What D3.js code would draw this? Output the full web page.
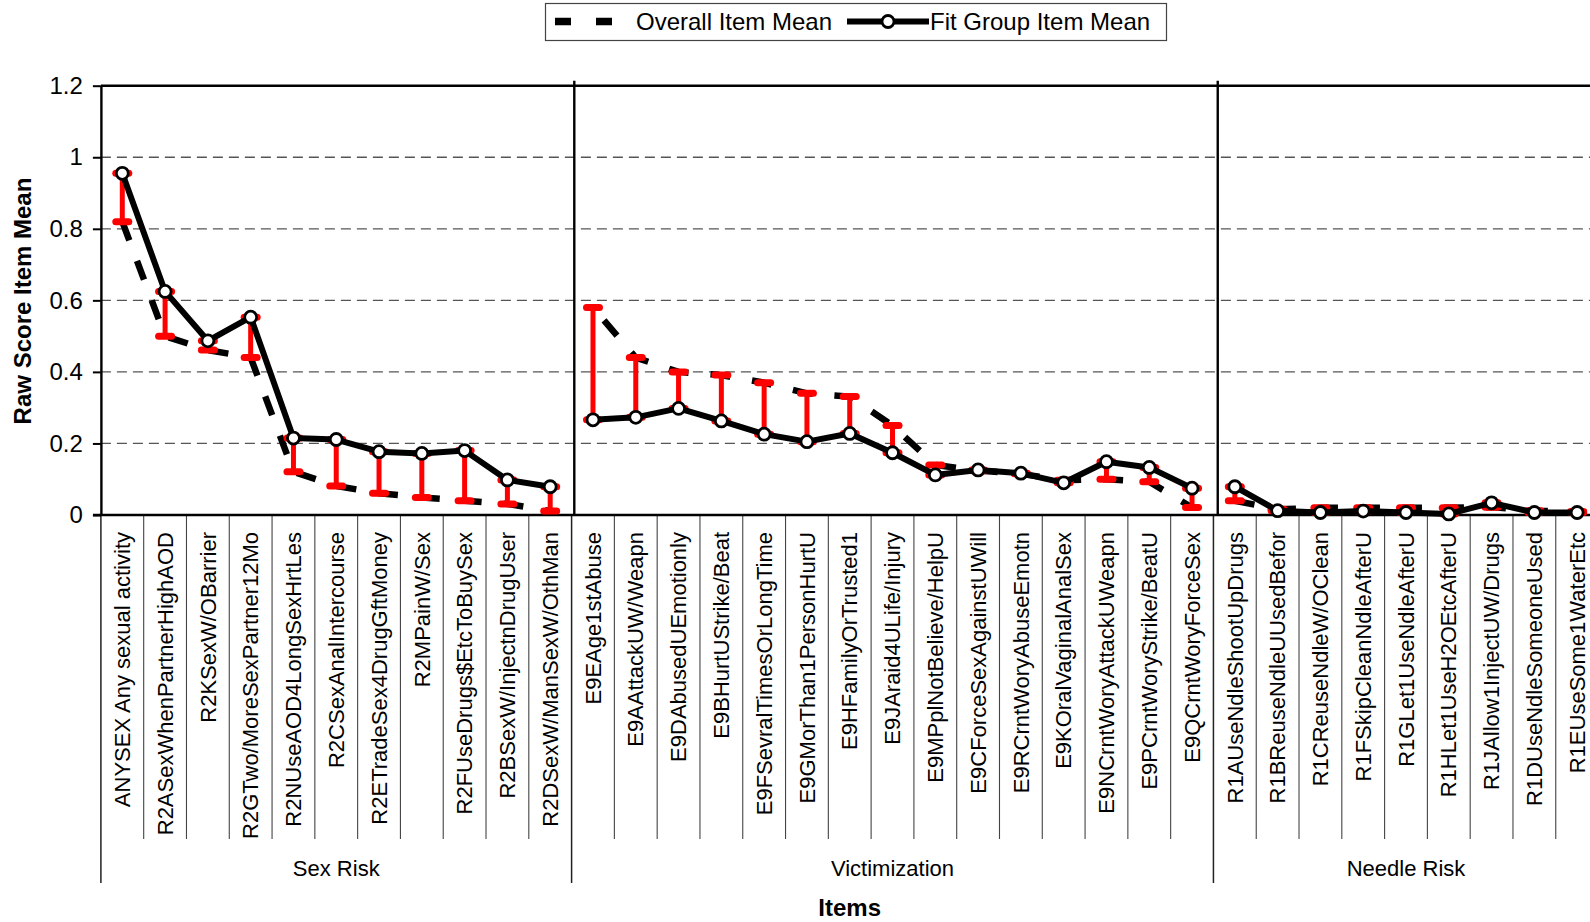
<!DOCTYPE html>
<html><head><meta charset="utf-8">
<script src="https://cdn.jsdelivr.net/npm/d3@7"></script>
<style>
body{margin:0;background:#fff;}
svg{display:block;font-family:"Liberation Sans",Arial,sans-serif;}
</style>
</head><body>
<svg id="chart" width="1590" height="922"></svg>
<script>
// ---------------- DATA ----------------
const groupNames = ["Sex Risk", "Victimization", "Needle Risk"];

const sexItems = ["ANYSEX Any sexual activity","R2ASexWhenPartnerHighAOD","R2KSexW/OBarrier","R2GTwo/MoreSexPartner12Mo",
  "R2NUseAOD4LongSexHrtLes","R2CSexAnalIntercourse","R2ETradeSex4DrugGftMoney","R2MPainW/Sex",
  "R2FUseDrugs$EtcToBuySex","R2BSexW/InjectnDrugUser","R2DSexW/ManSexW/OthMan"];
const sexFit     = [0.955, 0.625, 0.487, 0.553, 0.215, 0.211, 0.177, 0.172, 0.180, 0.098, 0.079];
const sexOverall = [0.820, 0.500, 0.461, 0.440, 0.121, 0.081, 0.061, 0.049, 0.040, 0.031, 0.011];

const vicItems = ["E9EAge1stAbuse","E9AAttackUW/Weapn","E9DAbusedUEmotionly","E9BHurtUStrike/Beat",
  "E9FSevralTimesOrLongTime","E9GMorThan1PersonHurtU","E9HFamilyOrTrusted1","E9JAraid4ULife/Injury",
  "E9MPplNotBelieve/HelpU","E9CForceSexAgainstUWill","E9RCrntWoryAbuseEmotn","E9KOralVaginalAnalSex",
  "E9NCrntWoryAttackUWeapn","E9PCrntWoryStrike/BeatU","E9QCrntWoryForceSex"];
const vicFit     = [0.266, 0.273, 0.298, 0.263, 0.226, 0.205, 0.228, 0.174, 0.112, 0.126, 0.117, 0.090, 0.149, 0.133, 0.075];
const vicOverall = [0.580, 0.440, 0.400, 0.391, 0.370, 0.340, 0.331, 0.250, 0.140, 0.124, 0.115, 0.097, 0.100, 0.093, 0.021];

const ndlItems = ["R1AUseNdleShootUpDrugs","R1BReuseNdleUUsedBefor","R1CReuseNdleW/OClean","R1FSkipCleanNdleAfterU",
  "R1GLet1UseNdleAfterU","R1HLet1UseH2OEtcAfterU","R1JAllow1InjectUW/Drugs","R1DUseNdleSomeoneUsed","R1EUseSome1WaterEtc"];
const ndlFit     = [0.079, 0.012, 0.007, 0.011, 0.007, 0.003, 0.034, 0.007, 0.007];
const ndlOverall = [0.040, 0.016, 0.020, 0.020, 0.020, 0.020, 0.022, 0.012, 0.010];

const yTicks = [0, 0.2, 0.4, 0.6, 0.8, 1, 1.2];
const legendLabels = ["Overall Item Mean", "Fit Group Item Mean"];
const yTitle = "Raw Score Item Mean";
const xTitle = "Items";

// ---------------- BUILD ----------------
const groups = [
  {name: groupNames[0], items: sexItems, fit: sexFit, overall: sexOverall, dashOffset: 0},
  {name: groupNames[1], items: vicItems, fit: vicFit, overall: vicOverall, dashOffset: 25},
  {name: groupNames[2], items: ndlItems, fit: ndlFit, overall: ndlOverall, dashOffset: 0}
];
const allItems = groups.flatMap(g => g.items);
groups.forEach(g => { g.rows = g.items.map((it, i) => ({item: it, fit: g.fit[i], overall: g.overall[i]})); });

const svg = d3.select("#chart");
svg.append("rect").attr("width", 1590).attr("height", 922).attr("fill", "#fff");

const x0 = 100.9, step = 42.79;
const x = d3.scaleBand().domain(allItems).range([x0, x0 + step * allItems.length]).padding(0);
const y = d3.scaleLinear().domain([0, 1.2]).range([515, 85.7]);
const cx = d => x(d) + x.bandwidth() / 2;
const axisY = 515;
const right = x0 + step * allItems.length;

// gridlines
svg.append("g").selectAll("line").data(yTicks.filter(t => t > 0 && t < 1.2)).join("line")
  .attr("x1", x0).attr("x2", right).attr("y1", d => y(d)).attr("y2", d => y(d))
  .attr("stroke", "#555").attr("stroke-width", 1.3).attr("stroke-dasharray", "10,6");

// top border
svg.append("line").attr("x1", x0).attr("x2", right + 5).attr("y1", y(1.2)).attr("y2", y(1.2))
  .attr("stroke", "#000").attr("stroke-width", 2.5);

// group separators inside plot
let cum = 0;
const boundaries = [0];
groups.forEach(g => { cum += g.items.length; boundaries.push(cum); });
const sepOffset = [2.7, 4.3];
svg.append("g").selectAll("line").data(boundaries.slice(1, -1)).join("line")
  .attr("x1", (d, i) => x0 + d * step + sepOffset[i]).attr("x2", (d, i) => x0 + d * step + sepOffset[i])
  .attr("y1", y(1.2) - 5).attr("y2", axisY)
  .attr("stroke", "#000").attr("stroke-width", 2.4);

// bottom category boundaries
const bnd = d3.range(allItems.length + 1);
svg.append("g").selectAll("line").data(bnd).join("line")
  .attr("x1", d => x0 + d * step).attr("x2", d => x0 + d * step)
  .attr("y1", axisY).attr("y2", d => boundaries.includes(d) ? 883 : 839)
  .attr("stroke", d => boundaries.includes(d) ? "#222" : "#444")
  .attr("stroke-width", d => boundaries.includes(d) ? 1.5 : 1.1);

// y axis
const yAxis = d3.axisLeft(y).tickValues(yTicks).tickSize(8).tickSizeOuter(0).tickPadding(10)
  .tickFormat(d3.format("~g"));
const ga = svg.append("g").attr("transform", `translate(${x0},0)`).call(yAxis);
ga.select(".domain").attr("stroke", "#000").attr("stroke-width", 2.4);
ga.selectAll(".tick line").attr("stroke", "#000").attr("stroke-width", 2);
ga.selectAll(".tick text").attr("font-size", 24).attr("fill", "#000")
  .attr("font-family", '"Liberation Sans",Arial,sans-serif');

// x axis line
svg.append("line").attr("x1", 93).attr("x2", right + 5).attr("y1", axisY).attr("y2", axisY)
  .attr("stroke", "#000").attr("stroke-width", 2.5);

// item labels
svg.append("g").selectAll("text").data(allItems).join("text")
  .attr("transform", d => `translate(${cx(d)},532) rotate(-90)`)
  .attr("text-anchor", "end").attr("dy", "0.35em")
  .attr("font-size", 22).attr("fill", "#000").text(d => d);

// group labels
groups.forEach((g, gi) => {
  const mid = x0 + step * (boundaries[gi] + boundaries[gi + 1]) / 2;
  svg.append("text").attr("x", mid).attr("y", 876).attr("text-anchor", "middle")
    .attr("font-size", 22).attr("fill", "#000").text(g.name);
});

// axis titles
svg.append("text").attr("x", x0 + step * allItems.length / 2).attr("y", 916)
  .attr("text-anchor", "middle").attr("font-size", 24).attr("font-weight", "bold").text(xTitle);
svg.append("text").attr("transform", "translate(31,301) rotate(-90)")
  .attr("text-anchor", "middle").attr("font-size", 24).attr("font-weight", "bold").text(yTitle);

// overall dashed lines
const line = (key) => d3.line().x(d => cx(d.item)).y(d => y(d[key]));
groups.forEach(g => {
  svg.append("path").datum(g.rows).attr("d", line("overall"))
    .attr("fill", "none").attr("stroke", "#000").attr("stroke-width", 6.5)
    .attr("stroke-dasharray", "20,22").attr("stroke-dashoffset", g.dashOffset);
});

// red difference bars
const allRows = groups.flatMap(g => g.rows);
const red = svg.append("g").attr("stroke", "#ff0000").attr("stroke-linecap", "round");
red.selectAll("line.bar").data(allRows).join("line").attr("class", "bar")
  .attr("x1", d => cx(d.item)).attr("x2", d => cx(d.item))
  .attr("y1", d => y(d.fit)).attr("y2", d => y(d.overall)).attr("stroke-width", 5);
red.selectAll("line.capO").data(allRows).join("line").attr("class", "capO")
  .attr("x1", d => cx(d.item) - 6.5).attr("x2", d => cx(d.item) + 6.5)
  .attr("y1", d => y(d.overall)).attr("y2", d => y(d.overall)).attr("stroke-width", 7);
red.selectAll("line.capF").data(allRows).join("line").attr("class", "capF")
  .attr("x1", d => cx(d.item) - 6.5).attr("x2", d => cx(d.item) + 6.5)
  .attr("y1", d => y(d.fit)).attr("y2", d => y(d.fit)).attr("stroke-width", 7);

// fit lines
groups.forEach(g => {
  svg.append("path").datum(g.rows).attr("d", line("fit"))
    .attr("fill", "none").attr("stroke", "#000").attr("stroke-width", 6).attr("stroke-linejoin", "round");
});
svg.append("g").selectAll("circle").data(allRows).join("circle")
  .attr("cx", d => cx(d.item)).attr("cy", d => y(d.fit)).attr("r", 6)
  .attr("fill", "#fff").attr("stroke", "#000").attr("stroke-width", 2.8);

// legend
const lg = svg.append("g");
lg.append("rect").attr("x", 545.5).attr("y", 3.5).attr("width", 621).attr("height", 37)
  .attr("fill", "#fff").attr("stroke", "#444").attr("stroke-width", 1.2);
lg.append("line").attr("x1", 555).attr("x2", 612).attr("y1", 21.5).attr("y2", 21.5)
  .attr("stroke", "#000").attr("stroke-width", 7.5).attr("stroke-dasharray", "16,25");
lg.append("text").attr("x", 636).attr("y", 30).attr("font-size", 24).text(legendLabels[0]);
lg.append("line").attr("x1", 847).attr("x2", 929).attr("y1", 21.5).attr("y2", 21.5)
  .attr("stroke", "#000").attr("stroke-width", 6);
lg.append("circle").attr("cx", 888).attr("cy", 21.5).attr("r", 6)
  .attr("fill", "#fff").attr("stroke", "#000").attr("stroke-width", 2.8);
lg.append("text").attr("x", 930).attr("y", 30).attr("font-size", 24).text(legendLabels[1]);
</script>
</body></html>
